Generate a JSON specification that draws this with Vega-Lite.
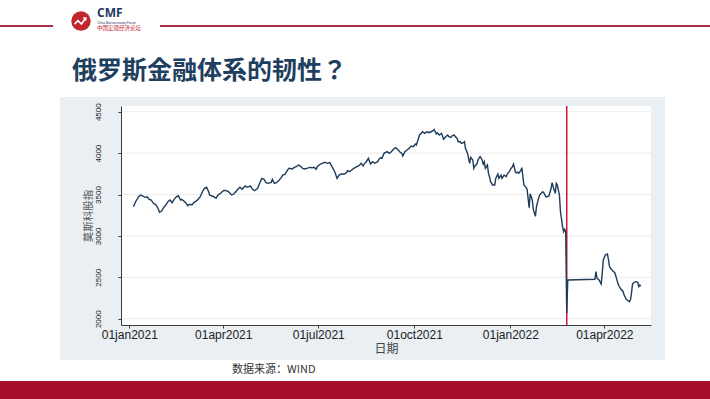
{
"$schema":"https://vega.github.io/schema/vega-lite/v6.json",
"autosize":{"type":"none"},
"width":530,"height":219,
"padding":{"left":121,"top":106,"right":59,"bottom":74},
"background":"white",
"config":{"view":{"stroke":null,"fill":"white"},"font":"Liberation Sans"},
"datasets":{
"moex":[
{"date":"2021-01-05","v":3353},{"date":"2021-01-07","v":3413},{"date":"2021-01-10","v":3473},{"date":"2021-01-12","v":3494},{"date":"2021-01-14","v":3482},{"date":"2021-01-16","v":3466},{"date":"2021-01-18","v":3473},{"date":"2021-01-20","v":3442},{"date":"2021-01-22","v":3434},{"date":"2021-01-24","v":3394},{"date":"2021-01-26","v":3382},{"date":"2021-01-28","v":3345},{"date":"2021-01-30","v":3285},
{"date":"2021-02-01","v":3301},{"date":"2021-02-03","v":3345},{"date":"2021-02-05","v":3373},{"date":"2021-02-07","v":3413},{"date":"2021-02-09","v":3434},{"date":"2021-02-11","v":3401},{"date":"2021-02-13","v":3442},{"date":"2021-02-15","v":3473},{"date":"2021-02-17","v":3485},{"date":"2021-02-19","v":3434},{"date":"2021-02-20","v":3442},{"date":"2021-02-22","v":3425},{"date":"2021-02-24","v":3401},{"date":"2021-02-26","v":3365},{"date":"2021-02-28","v":3382},
{"date":"2021-03-02","v":3373},{"date":"2021-03-04","v":3406},{"date":"2021-03-06","v":3421},{"date":"2021-03-08","v":3442},{"date":"2021-03-10","v":3473},{"date":"2021-03-12","v":3534},{"date":"2021-03-14","v":3575},{"date":"2021-03-16","v":3587},{"date":"2021-03-18","v":3534},{"date":"2021-03-19","v":3494},{"date":"2021-03-21","v":3482},{"date":"2021-03-23","v":3473},{"date":"2021-03-25","v":3454},{"date":"2021-03-27","v":3494},{"date":"2021-03-30","v":3522},
{"date":"2021-04-01","v":3546},{"date":"2021-04-03","v":3550},{"date":"2021-04-06","v":3534},{"date":"2021-04-09","v":3494},{"date":"2021-04-11","v":3506},{"date":"2021-04-13","v":3534},{"date":"2021-04-15","v":3563},{"date":"2021-04-17","v":3587},{"date":"2021-04-19","v":3563},{"date":"2021-04-22","v":3603},{"date":"2021-04-24","v":3587},{"date":"2021-04-27","v":3603},{"date":"2021-04-29","v":3563},
{"date":"2021-05-01","v":3546},{"date":"2021-05-04","v":3575},{"date":"2021-05-06","v":3643},{"date":"2021-05-08","v":3695},{"date":"2021-05-10","v":3683},{"date":"2021-05-12","v":3643},{"date":"2021-05-14","v":3635},{"date":"2021-05-17","v":3647},{"date":"2021-05-18","v":3683},{"date":"2021-05-20","v":3635},{"date":"2021-05-22","v":3643},{"date":"2021-05-24","v":3667},{"date":"2021-05-26","v":3695},{"date":"2021-05-28","v":3735},{"date":"2021-05-30","v":3744},
{"date":"2021-06-02","v":3804},{"date":"2021-06-03","v":3816},{"date":"2021-06-06","v":3808},{"date":"2021-06-08","v":3828},{"date":"2021-06-10","v":3836},{"date":"2021-06-12","v":3856},{"date":"2021-06-14","v":3844},{"date":"2021-06-16","v":3816},{"date":"2021-06-18","v":3808},{"date":"2021-06-20","v":3816},{"date":"2021-06-23","v":3828},{"date":"2021-06-25","v":3824},{"date":"2021-06-27","v":3828},{"date":"2021-06-29","v":3804},{"date":"2021-06-30","v":3836},
{"date":"2021-07-03","v":3868},{"date":"2021-07-05","v":3877},{"date":"2021-07-07","v":3890},{"date":"2021-07-10","v":3877},{"date":"2021-07-12","v":3885},{"date":"2021-07-14","v":3840},{"date":"2021-07-17","v":3770},{"date":"2021-07-19","v":3695},{"date":"2021-07-21","v":3735},{"date":"2021-07-23","v":3747},{"date":"2021-07-26","v":3747},{"date":"2021-07-28","v":3763},{"date":"2021-07-29","v":3787},{"date":"2021-07-31","v":3775},
{"date":"2021-08-02","v":3796},{"date":"2021-08-04","v":3816},{"date":"2021-08-07","v":3836},{"date":"2021-08-09","v":3848},{"date":"2021-08-11","v":3877},{"date":"2021-08-13","v":3844},{"date":"2021-08-14","v":3868},{"date":"2021-08-16","v":3896},{"date":"2021-08-18","v":3937},{"date":"2021-08-20","v":3868},{"date":"2021-08-22","v":3896},{"date":"2021-08-24","v":3877},{"date":"2021-08-27","v":3896},{"date":"2021-08-28","v":3925},{"date":"2021-08-30","v":3945},{"date":"2021-08-31","v":3937},
{"date":"2021-09-02","v":3997},{"date":"2021-09-05","v":4017},{"date":"2021-09-07","v":3997},{"date":"2021-09-09","v":4017},{"date":"2021-09-11","v":4046},{"date":"2021-09-13","v":4065},{"date":"2021-09-15","v":4046},{"date":"2021-09-17","v":4017},{"date":"2021-09-19","v":3997},{"date":"2021-09-20","v":3965},{"date":"2021-09-22","v":4017},{"date":"2021-09-24","v":4037},{"date":"2021-09-25","v":4046},{"date":"2021-09-27","v":4070},{"date":"2021-09-28","v":4086},{"date":"2021-09-30","v":4078},
{"date":"2021-10-02","v":4110},{"date":"2021-10-03","v":4098},{"date":"2021-10-05","v":4179},{"date":"2021-10-06","v":4219},{"date":"2021-10-09","v":4258},{"date":"2021-10-11","v":4239},{"date":"2021-10-13","v":4258},{"date":"2021-10-15","v":4246},{"date":"2021-10-17","v":4258},{"date":"2021-10-19","v":4270},{"date":"2021-10-20","v":4285},{"date":"2021-10-22","v":4231},{"date":"2021-10-23","v":4246},{"date":"2021-10-25","v":4219},{"date":"2021-10-27","v":4239},{"date":"2021-10-28","v":4207},{"date":"2021-10-29","v":4166},{"date":"2021-10-31","v":4198},
{"date":"2021-11-02","v":4219},{"date":"2021-11-03","v":4198},{"date":"2021-11-05","v":4190},{"date":"2021-11-06","v":4207},{"date":"2021-11-08","v":4219},{"date":"2021-11-10","v":4190},{"date":"2021-11-11","v":4179},{"date":"2021-11-12","v":4138},{"date":"2021-11-14","v":4138},{"date":"2021-11-15","v":4118},{"date":"2021-11-17","v":4126},{"date":"2021-11-18","v":4138},{"date":"2021-11-19","v":4058},{"date":"2021-11-21","v":3997},{"date":"2021-11-22","v":3937},{"date":"2021-11-23","v":3877},{"date":"2021-11-24","v":3949},{"date":"2021-11-26","v":3917},{"date":"2021-11-27","v":3816},{"date":"2021-11-28","v":3844},{"date":"2021-11-30","v":3868},
{"date":"2021-12-01","v":3917},{"date":"2021-12-03","v":3957},{"date":"2021-12-05","v":3917},{"date":"2021-12-06","v":3868},{"date":"2021-12-07","v":3896},{"date":"2021-12-08","v":3816},{"date":"2021-12-10","v":3856},{"date":"2021-12-11","v":3756},{"date":"2021-12-12","v":3715},{"date":"2021-12-13","v":3655},{"date":"2021-12-15","v":3615},{"date":"2021-12-17","v":3615},{"date":"2021-12-18","v":3695},{"date":"2021-12-20","v":3747},{"date":"2021-12-21","v":3695},{"date":"2021-12-23","v":3735},{"date":"2021-12-24","v":3695},{"date":"2021-12-26","v":3735},{"date":"2021-12-28","v":3715},{"date":"2021-12-29","v":3747},{"date":"2021-12-31","v":3775},
{"date":"2022-01-01","v":3804},{"date":"2022-01-03","v":3836},{"date":"2022-01-04","v":3868},{"date":"2022-01-06","v":3763},{"date":"2022-01-08","v":3768},{"date":"2022-01-09","v":3756},{"date":"2022-01-11","v":3787},{"date":"2022-01-12","v":3824},{"date":"2022-01-13","v":3715},{"date":"2022-01-14","v":3615},{"date":"2022-01-16","v":3587},{"date":"2022-01-17","v":3563},{"date":"2022-01-19","v":3340},{"date":"2022-01-20","v":3510},{"date":"2022-01-22","v":3434},{"date":"2022-01-23","v":3320},{"date":"2022-01-25","v":3236},{"date":"2022-01-26","v":3353},{"date":"2022-01-28","v":3454},{"date":"2022-01-29","v":3494},
{"date":"2022-02-01","v":3534},{"date":"2022-02-02","v":3522},{"date":"2022-02-04","v":3473},{"date":"2022-02-05","v":3473},{"date":"2022-02-07","v":3482},{"date":"2022-02-09","v":3575},{"date":"2022-02-10","v":3643},{"date":"2022-02-11","v":3594},{"date":"2022-02-13","v":3514},{"date":"2022-02-14","v":3635},{"date":"2022-02-15","v":3615},{"date":"2022-02-17","v":3494},{"date":"2022-02-18","v":3292},{"date":"2022-02-20","v":3111},{"date":"2022-02-21","v":3051},{"date":"2022-02-22","v":3080},{"date":"2022-02-23","v":3051},{"date":"2022-02-24","v":2065},{"date":"2022-02-25","v":2467},
{"date":"2022-03-23","v":2476},{"date":"2022-03-24","v":2568},{"date":"2022-03-25","v":2488},{"date":"2022-03-27","v":2467},{"date":"2022-03-29","v":2419},{"date":"2022-03-30","v":2548},{"date":"2022-03-31","v":2709},
{"date":"2022-04-02","v":2769},{"date":"2022-04-04","v":2781},{"date":"2022-04-05","v":2709},{"date":"2022-04-06","v":2628},{"date":"2022-04-07","v":2609},{"date":"2022-04-09","v":2580},{"date":"2022-04-11","v":2556},{"date":"2022-04-12","v":2516},{"date":"2022-04-14","v":2427},{"date":"2022-04-15","v":2395},{"date":"2022-04-17","v":2355},{"date":"2022-04-19","v":2326},{"date":"2022-04-20","v":2286},{"date":"2022-04-22","v":2234},{"date":"2022-04-25","v":2205},{"date":"2022-04-26","v":2226},{"date":"2022-04-27","v":2307},{"date":"2022-04-28","v":2419},{"date":"2022-04-29","v":2435},
{"date":"2022-05-01","v":2447},{"date":"2022-05-03","v":2440},{"date":"2022-05-04","v":2386},{"date":"2022-05-05","v":2407},{"date":"2022-05-06","v":2395}
],
"events":[{"date":"2022-02-24"}],
"grid":[{"v":2000},{"v":2500},{"v":3000},{"v":3500},{"v":4000},{"v":4500}]
},
"layer":[
{"data":{"values":[{}]},"mark":{"type":"rect","color":"#e9eff2"},
"encoding":{
"x":{"datum":{"year":2020,"month":10,"date":26,"hours":14,"utc":true},"type":"temporal","title":"日期",
"scale":{"type":"utc","domain":[{"year":2020,"month":12,"date":24,"hours":1,"utc":true},{"year":2022,"month":5,"date":15,"hours":17,"utc":true}]},
"axis":{"zindex":1,"values":[{"year":2021,"month":1,"date":1,"utc":true},{"year":2021,"month":4,"date":1,"utc":true},{"year":2021,"month":7,"date":1,"utc":true},{"year":2021,"month":10,"date":1,"utc":true},{"year":2022,"month":1,"date":1,"utc":true},{"year":2022,"month":4,"date":1,"utc":true}],
"labelExpr":"lower(utcFormat(datum.value, '%d%b%Y'))","grid":false,"domainColor":"#3a3a3a","tickColor":"#3a3a3a","tickSize":3,"labelFont":"Liberation Sans","labelFontSize":12,"labelColor":"#222","labelPadding":1,"labelFlush":false,"labelOverlap":false,
"titleFont":"Noto Sans CJK SC","titleFontWeight":"normal","titleFontSize":12,"titleColor":"#444","titlePadding":3}},
"x2":{"datum":{"year":2022,"month":5,"date":29,"hours":2,"utc":true}},
"y":{"datum":4678,"type":"quantitative","title":"莫斯科股指",
"scale":{"domain":[1924,4569],"nice":false,"zero":false},
"axis":{"zindex":1,"values":[2000,2500,3000,3500,4000,4500],"format":"d","grid":false,"labelAngle":-90,"domainColor":"#3a3a3a","tickColor":"#3a3a3a","tickSize":3,"labelFont":"Liberation Sans","labelFontSize":8,"labelColor":"#222","labelPadding":16,
"titleFont":"Noto Sans CJK SC","titleFontWeight":"normal","titleFontSize":10.5,"titleColor":"#555","titlePadding":1}},
"y2":{"datum":1501}}},
{"data":{"values":[{}]},"mark":{"type":"rect","color":"white"},
"encoding":{
"x":{"datum":{"year":2020,"month":12,"date":24,"hours":1,"utc":true},"type":"temporal","title":"日期"},
"x2":{"datum":{"year":2022,"month":5,"date":15,"hours":17,"utc":true}},
"y":{"datum":4569,"type":"quantitative","title":"莫斯科股指"},
"y2":{"datum":1924}}},
{"data":{"name":"grid"},"mark":{"type":"rule","color":"#ebebeb","strokeWidth":1},
"encoding":{"y":{"field":"v","type":"quantitative","title":"莫斯科股指"}}},
{"data":{"name":"events"},"mark":{"type":"rule","color":"#cf1538","strokeWidth":1.5},
"encoding":{"x":{"field":"date","type":"temporal","title":"日期"}}},
{"data":{"name":"moex"},"mark":{"type":"line","color":"#1e3b58","strokeWidth":1.4,"interpolate":"linear"},
"encoding":{
"x":{"field":"date","type":"temporal","title":"日期"},
"y":{"field":"v","type":"quantitative","title":"莫斯科股指"}}},
{"data":{"values":[{}]},"mark":{"type":"rule","color":"#a83245","strokeWidth":2},
"encoding":{"x":{"datum":{"year":2020,"month":8,"date":1,"utc":true},"type":"temporal","title":"日期"},"x2":{"datum":{"year":2020,"month":10,"date":20,"utc":true}},"y":{"datum":5535,"type":"quantitative","title":"莫斯科股指"}}},
{"data":{"values":[{}]},"mark":{"type":"rule","color":"#a83245","strokeWidth":2},
"encoding":{"x":{"datum":{"year":2021,"month":1,"date":30,"hours":9,"utc":true},"type":"temporal","title":"日期"},"x2":{"datum":{"year":2022,"month":9,"date":1,"utc":true}},"y":{"datum":5535,"type":"quantitative","title":"莫斯科股指"}}},
{"data":{"values":[{}]},"mark":{"type":"point","filled":true,"shape":"circle","size":380,"color":"#c1272d","opacity":1},
"encoding":{"x":{"datum":{"year":2020,"month":11,"date":15,"hours":17,"utc":true},"type":"temporal","title":"日期"},"y":{"datum":5595,"type":"quantitative","title":"莫斯科股指"}}},
{"data":{"values":[{}]},"mark":{"type":"point","filled":false,"shape":"M-0.75,0.35L-0.35,-0.05L0.05,0.35L0.55,-0.35M0.25,-0.35L0.55,-0.35L0.55,-0.05","size":300,"stroke":"white","strokeWidth":1.6,"opacity":1},
"encoding":{"x":{"datum":{"year":2020,"month":11,"date":15,"hours":17,"utc":true},"type":"temporal","title":"日期"},"y":{"datum":5595,"type":"quantitative","title":"莫斯科股指"}}},
{"data":{"values":[{}]},"mark":{"type":"text","text":"CMF","font":"Open Sans","fontWeight":"bold","fontSize":12,"color":"#1f3864","align":"left","baseline":"alphabetic"},
"encoding":{"x":{"datum":{"year":2020,"month":12,"date":1,"hours":2,"utc":true},"type":"temporal","title":"日期"},"y":{"datum":5646,"type":"quantitative","title":"莫斯科股指"}}},
{"data":{"values":[{}]},"mark":{"type":"text","text":"China Macroeconomy Forum","fontSize":3,"color":"#1f3864","align":"left","baseline":"alphabetic"},
"encoding":{"x":{"datum":{"year":2020,"month":12,"date":1,"hours":2,"utc":true},"type":"temporal","title":"日期"},"y":{"datum":5562,"type":"quantitative","title":"莫斯科股指"}}},
{"data":{"values":[{}]},"mark":{"type":"text","text":"中国宏观经济论坛","font":"Noto Sans CJK SC","fontSize":5.5,"color":"#c1272d","align":"left","baseline":"alphabetic"},
"encoding":{"x":{"datum":{"year":2020,"month":12,"date":1,"hours":2,"utc":true},"type":"temporal","title":"日期"},"y":{"datum":5487,"type":"quantitative","title":"莫斯科股指"}}},
{"data":{"values":[{}]},"mark":{"type":"text","text":"俄罗斯金融体系的韧性？","font":"Noto Sans CJK JP","fontWeight":"bold","fontSize":25,"color":"#1f3f60","align":"left","baseline":"middle"},
"encoding":{"x":{"datum":{"year":2020,"month":11,"date":7,"hours":2,"utc":true},"type":"temporal","title":"日期"},"y":{"datum":4992,"type":"quantitative","title":"莫斯科股指"}}},
{"data":{"values":[{}]},"mark":{"type":"text","text":"数据来源：WIND","font":"Noto Sans CJK SC","fontSize":11,"color":"#333","align":"left","baseline":"middle"},
"encoding":{"x":{"datum":{"year":2021,"month":4,"date":9,"hours":10,"utc":true},"type":"temporal","title":"日期"},"y":{"datum":1381,"type":"quantitative","title":"莫斯科股指"}}},
{"data":{"values":[{}]},"mark":{"type":"rect","color":"#a50f2a"},
"encoding":{"x":{"datum":{"year":2020,"month":8,"date":1,"utc":true},"type":"temporal","title":"日期"},"x2":{"datum":{"year":2022,"month":9,"date":1,"utc":true}},"y":{"datum":1248,"type":"quantitative","title":"莫斯科股指"},"y2":{"datum":800}}}
]
}
